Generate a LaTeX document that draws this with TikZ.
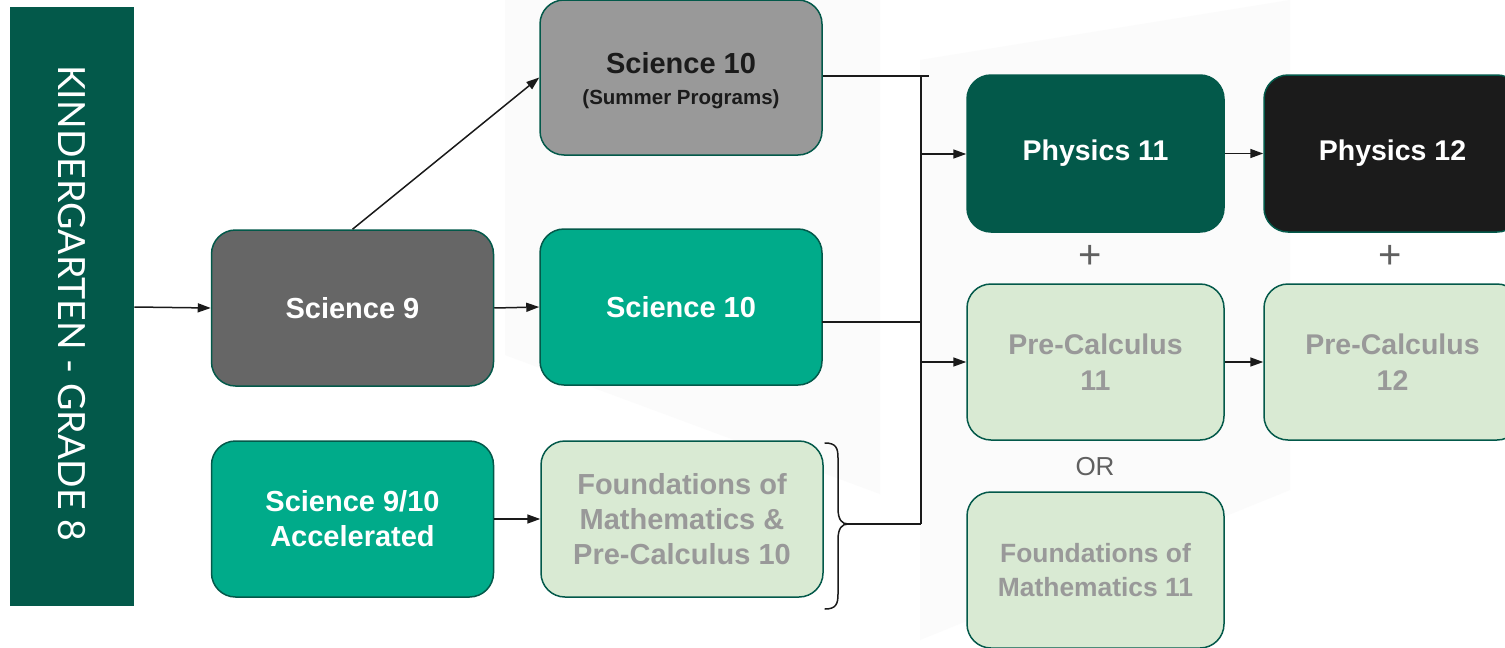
\documentclass[tikz,border=0pt]{standalone}
\usepackage{fontspec}
\setmainfont{Liberation Sans}
\newfontfamily\barfont{Lato}
\usetikzlibrary{arrows.meta}
\definecolor{dkgreen}{HTML}{03594A}
\definecolor{teal}{HTML}{00AB8A}
\definecolor{ltgreen}{HTML}{D9EAD3}
\definecolor{txtgray}{HTML}{999999}
\definecolor{midgray}{HTML}{666666}
\definecolor{sumgray}{HTML}{999999}
\definecolor{nearblack}{HTML}{1B1B1B}
\definecolor{linecol}{HTML}{1A1A1A}
\definecolor{wmark}{HTML}{FBFBFB}
\definecolor{signgray}{HTML}{606060}
\tikzset{
  box/.style={draw=dkgreen, line width=1.5pt, rounded corners=24pt,
    minimum width=282pt, minimum height=156pt, inner sep=0pt, align=center,
    font=\fontsize{29}{35}\selectfont\bfseries},
  narrowbox/.style={box, minimum width=257pt, font=\fontsize{28.5}{36}\selectfont\bfseries},
  conn/.style={draw=linecol, line width=1.5pt},
  arr/.style={conn, -{Triangle[length=13pt,width=9pt]}},
  sign/.style={text=signgray, font=\fontsize{40}{40}\selectfont, inner sep=0pt}
}
\begin{document}
\begin{tikzpicture}[x=1pt,y=-1pt]
\clip (0,0) rectangle (1505,648);
\fill[white] (0,0) rectangle (1505,648);
% faint watermark
\fill[wmark] (505,0) -- (880,0) -- (880,494) -- (505,355) -- cycle;
\fill[wmark] (920,60) -- (1290,0) -- (1290,490) -- (920,640) -- cycle;

% left bar
\node[fill=dkgreen, minimum width=124pt, minimum height=599pt, inner sep=0pt, anchor=north west] (bar) at (10,7) {};
\node[rotate=-90, text=white, font=\barfont\fontsize{37.5}{37.5}\selectfont] (bartext) at (72,303) {KINDERGARTEN - GRADE 8};

% boxes
\node[box, fill=midgray, text=white] (sci9) at (352.5,308) {Science 9};
\node[box, fill=sumgray, minimum height=155pt] (sum10) at (681,77.5) {};
\node[text=nearblack, align=center, inner sep=0pt, font=\fontsize{29}{35}\selectfont\bfseries] (sumtext) at (681,81)
  {Science 10\\[-4pt]{\fontsize{20.5}{24}\selectfont (Summer Programs)}};
\node[box, fill=teal, text=white] (sci10) at (681,307) {Science 10};
\node[box, fill=teal, text=white] (acc) at (352.5,519) {Science 9/10\\Accelerated};
\node[box, fill=ltgreen, text=txtgray] (fnd10) at (682,519) {Foundations of\\Mathematics \&\\Pre-Calculus 10};
\node[narrowbox, fill=dkgreen, text=white, minimum height=157pt] (phy11) at (1095.5,153.5) {Physics 11};
\node[narrowbox, fill=nearblack, text=white, minimum height=157pt] (phy12) at (1392.5,153.5) {Physics 12};
\node[narrowbox, fill=ltgreen, text=txtgray] (pc11) at (1095.5,362) {Pre-Calculus\\11};
\node[narrowbox, fill=ltgreen, text=txtgray] (pc12) at (1392.5,362) {Pre-Calculus\\12};
\node[narrowbox, fill=ltgreen, text=txtgray, font=\fontsize{26.4}{34}\selectfont\bfseries] (fnd11) at (1095.5,570) {Foundations of\\Mathematics 11};

% signs
\node[sign] (plus1) at (1090,257) {+};
\node[sign] (plus2) at (1390,257) {+};
\node[sign, font=\fontsize{26}{26}\selectfont] (or) at (1095,467) {OR};

% bus coordinates
\coordinate (sumend) at (929,76);
\coordinate (bustop) at (921,77);
\coordinate (busbot) at (921,524);
\coordinate (sci10out) at (822,322);
\coordinate (sci10in) at (921,322);
\coordinate (brtip) at (848,524);
\coordinate (tapphy) at (921,154);
\coordinate (tappc) at (921,362);

% connectors
\draw[arr] (bar.east |- 0,307) -- (sci9.west);
\draw[arr] (sci9.north) -- (sum10.west);
\draw[arr] (sci9.east) -- (sci10.west);
\draw[arr] (acc.east) -- (fnd10.west);
\draw[conn] (sum10.east |- sumend) -- (sumend);
\draw[conn] (bustop) -- (busbot);
\draw[conn] (sci10out) -- (sci10in);
\draw[conn] (brtip) -- (busbot);
\draw[arr] (tapphy) -- (phy11.west |- tapphy);
\draw[arr] (tappc) -- (pc11.west |- tappc);
\draw[arr] (phy11.east) -- (phy12.west);
\draw[arr] (pc11.east) -- (pc12.west);

% brace
\draw[conn, line cap=round] (825,443) .. controls (836,443) and (838,448) .. (838,458) -- (838,508)
  .. controls (838,520) and (842,524) .. (brtip)
  .. controls (842,524) and (838,528) .. (838,540) -- (838,594)
  .. controls (838,604) and (836,609) .. (825,609);
\end{tikzpicture}
\end{document}
